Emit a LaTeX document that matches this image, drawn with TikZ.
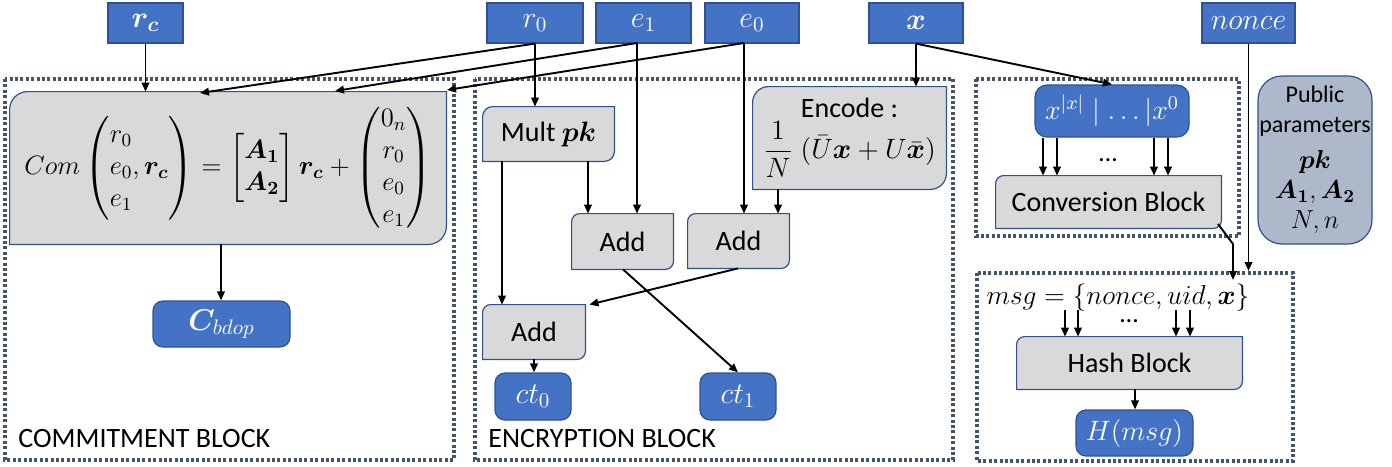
\RequirePackage{fix-cm}
\documentclass[tikz,border=0pt]{standalone}
\usepackage{amsmath}
\usepackage{bm}
\usepackage{fontspec}
\setmainfont{Carlito}
\usetikzlibrary{arrows.meta,backgrounds}
\definecolor{pblue}{HTML}{4472C4}
\definecolor{pborder}{HTML}{2F528F}
\definecolor{pgray}{HTML}{D9D9D9}
\definecolor{pdot}{HTML}{44546A}
\definecolor{ppub}{HTML}{ADB9CA}
\newcommand{\dgbox}[2]{%
  \path[dg] (#1.south west) -- ([yshift=-#2pt]#1.north west)
    .. controls ([yshift=-0.448*#2pt]#1.north west) and ([xshift=0.448*#2pt]#1.north west) .. ([xshift=#2pt]#1.north west)
    -- (#1.north east) -- ([yshift=#2pt]#1.south east)
    .. controls ([yshift=0.448*#2pt]#1.south east) and ([xshift=-0.448*#2pt]#1.south east) .. ([xshift=-#2pt]#1.south east)
    -- cycle;}
\tikzset{
  sz/.style 2 args={minimum width=#1*0.5pt, minimum height=#2*0.5pt},
  arr/.style={-{Triangle[length=4.5pt,width=3.8pt]}, line width=0.95pt},
  blk/.style={draw=pdot, line width=1.7pt, dash pattern=on 1.5pt off 1.2pt},
  inb/.style={fill=pblue, draw=pborder, line width=0.6pt, text=white, inner sep=0pt, font=\fontsize{15}{18}\selectfont},
  outb/.style={inb, rounded corners=5pt},
  gnode/.style={inner sep=0pt, font=\fontsize{14}{17}\selectfont},
  dg/.style={fill=pgray, draw=pborder, line width=0.6pt},
  lbl/.style={anchor=base west, inner sep=0pt, font=\fontsize{14}{17}\selectfont},
}
\begin{document}
\begin{tikzpicture}[x=0.5pt,y=-0.5pt]
\useasboundingbox (0,0) rectangle (1392,466);
% dotted blocks
\draw[blk] (5,79) rectangle (454,460);
\draw[blk] (475,79) rectangle (953,460);
\draw[blk] (976,79) rectangle (1239,236);
\draw[blk] (977,273) rectangle (1293,461);
% inputs
\node[inb, sz={75}{40}] (rc) at (145.5,23) {$\bm{r_c}$};
\node[inb, sz={96}{40}] (r0) at (535,23) {$r_0$};
\node[inb, sz={95}{40}] (e1) at (643.5,23) {$e_1$};
\node[inb, sz={94}{40}] (e0) at (752,23) {$e_0$};
\node[inb, sz={94}{40}] (xin) at (916,23) {$\bm{x}$};
\node[inb, sz={93}{40}] (nonce) at (1248.5,23) {$nonce$};
% gray process nodes
\node[gnode, sz={436}{152}, font=\fontsize{13.3}{16}\selectfont] (com) at (228,168)
  {$Com\left(\begin{array}{@{}l@{}} r_0\\ e_0,\bm{r_c}\\ e_1\end{array}\right)=\begin{bmatrix}\bm{A_1}\\ \bm{A_2}\end{bmatrix}\bm{r_c}+\begin{pmatrix}0_n\\ r_0\\ e_0\\ e_1\end{pmatrix}$};
\node[gnode, sz={131}{54}] (mult) at (548.5,134) {Mult {\fontsize{14}{16}\selectfont$\bm{pk}$}};
\node[gnode, sz={193}{102}, align=center] (enc) at (849.5,138)
  {Encode :\\[1pt] {\fontsize{14}{16}\selectfont$\displaystyle\frac{1}{N}\;(\bar{U}\bm{x}+U\bar{\bm{x}})$}};
\node[gnode, sz={101}{55}] (add1) at (622.5,241.5) {Add};
\node[gnode, sz={101}{54}] (add2) at (738.5,241) {Add};
\node[gnode, sz={102}{54}] (add3) at (534,332) {Add};
\node[gnode, sz={225}{52}] (conv) at (1108.5,202) {Conversion Block};
\node[gnode, sz={225}{52}] (hash) at (1129.5,363) {Hash Block};
% outputs
\node[outb, sz={137}{46}] (cb) at (221.5,324) {$\bm{C}_{bdop}$};
\node[outb, sz={76}{47}] (ct0) at (533,396.5) {$ct_0$};
\node[outb, sz={76}{47}] (ct1) at (738,396.5) {$ct_1$};
\node[outb, sz={154}{52}, rounded corners=6pt, font=\fontsize{14}{16}\selectfont] (xb) at (1112,111) {$x^{|x|}\mid\ldots|x^0$};
\node[outb, sz={117}{46}, font=\fontsize{14}{16}\selectfont] (hm) at (1134.5,433) {$H(msg)$};
\node[fill=ppub, draw=pborder, line width=0.6pt, rounded corners=12pt, inner sep=0pt, sz={114}{168},
  align=center, font=\fontsize{12}{15}\selectfont] (pub) at (1315,160)
  {Public\\parameters\\[3pt] {\fontsize{13}{15}\selectfont$\bm{pk}$}\\ {\fontsize{13}{15}\selectfont$\bm{A_1},\bm{A_2}$}\\ {\fontsize{13}{15}\selectfont$N,n$}};
\node[inner sep=0pt, font=\fontsize{13.7}{17}\selectfont] (msg) at (1118,298) {$msg=\{nonce,uid,\bm{x}\}$};
\node[inner sep=0pt, font=\fontsize{13}{16}\selectfont] (d1) at (1108,160) {\ldots};
\node[inner sep=0pt, font=\fontsize{13}{16}\selectfont] (d2) at (1129,321) {\ldots};
% labels
\node[lbl] (lc) at (18,447) {COMMITMENT BLOCK};
\node[lbl] (le) at (488,447) {ENCRYPTION BLOCK};
% diagonal rounded shapes
\begin{scope}[on background layer]
\dgbox{com}{9}
\dgbox{mult}{5}
\dgbox{enc}{8}
\dgbox{add1}{4}
\dgbox{add2}{4}
\dgbox{add3}{4}
\dgbox{conv}{4}
\dgbox{hash}{4}
\end{scope}
% coordinates
\coordinate (e1o) at (637,43);
\coordinate (e0o) at (744,43);
\coordinate (cin1) at (200,93);
\coordinate (cin2) at (335,91);
\coordinate (cin3) at (447,90);
\coordinate (cvo) at (1218,224);
\coordinate (bend) at (1233,244);
\coordinate (msgin) at (1233,280);
\coordinate (hin) at (1248.5,271);
% connectors
\draw[arr] (rc.south) -- (rc.south |- com.north);
\draw[arr] (r0.south) -- (cin1);
\draw[arr] (e1o) -- (cin2);
\draw[arr] (e0o) -- (cin3);
\draw[arr] (r0.south) -- (r0.south |- mult.north);
\draw[arr] (e1o) -- (e1o |- add1.north);
\draw[arr] (e0o) -- (e0o |- add2.north);
\draw[arr] (xin.south) -- (xin.south |- enc.north);
\draw[arr] (xin.south) -- (xb.north);
\draw[arr] (mult.south -| 588,0) -- (add1.north -| 588,0);
\draw[arr] (mult.south -| 502,0) -- (add3.north -| 502,0);
\draw[arr] (enc.south -| 778,0) -- (add2.north -| 778,0);
\draw[arr] (add2.south -| 738,0) -- ([xshift=2pt]add3.north east);
\draw[arr] (add1.south -| 623,0) -- (ct1.north);
\draw[arr] (add3.south) -- (add3.south |- ct0.north);
\draw[arr] (com.south -| 221,0) -- (cb.north -| 221,0);
\foreach \xx in {1043,1057,1154,1168} \draw[arr] (xb.south -| \xx,0) -- (conv.north -| \xx,0);
\draw[arr] (cvo) -- (bend) -- (msgin);
\draw[arr] (nonce.south) -- (hin);
\foreach \xx in {1065,1078,1176,1190} \draw[arr] (\xx,310) -- (hash.north -| \xx,0);
\draw[arr] (hash.south -| 1135,0) -- (hm.north -| 1135,0);
\end{tikzpicture}
\end{document}
